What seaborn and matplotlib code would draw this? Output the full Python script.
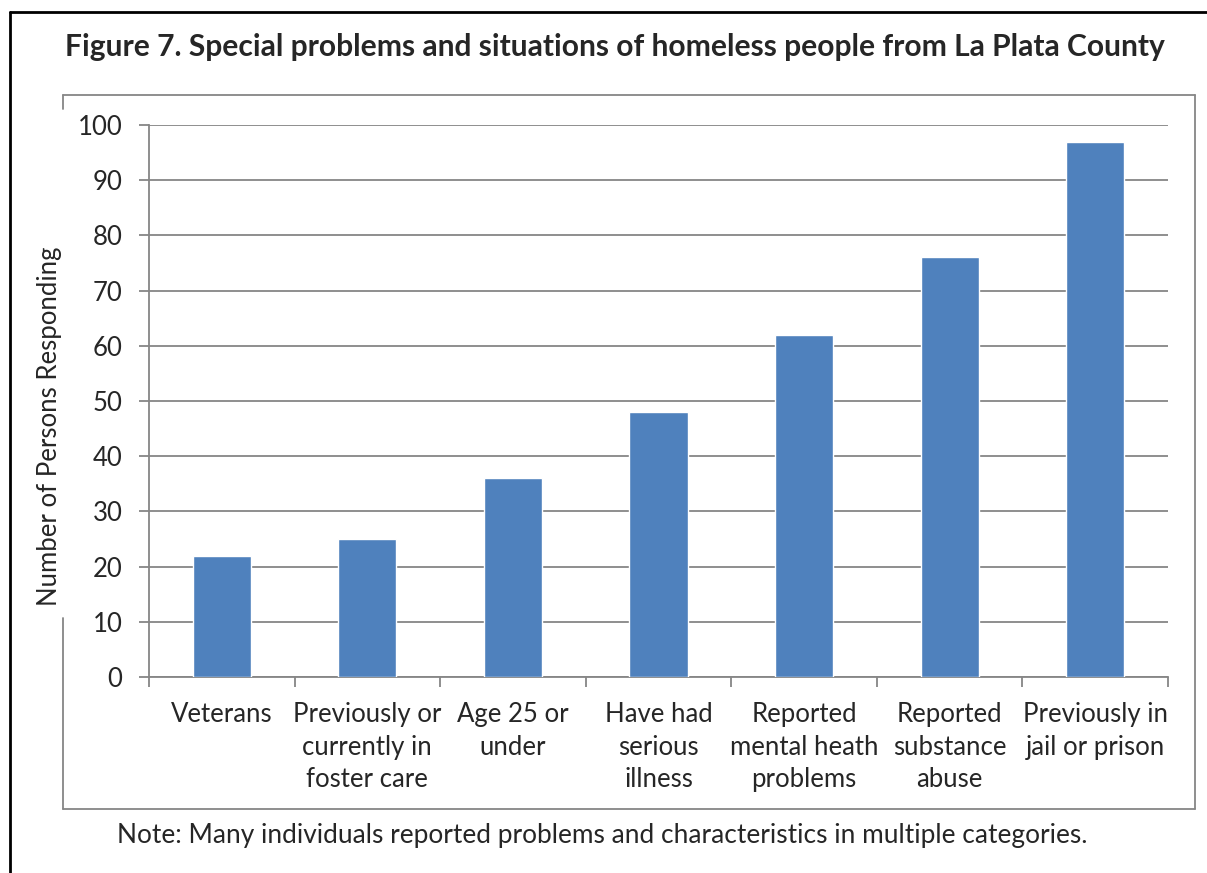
import matplotlib
matplotlib.use("Agg")
import matplotlib.pyplot as plt
import seaborn as sns
import pandas as pd
from matplotlib.lines import Line2D

categories = ["Veterans", "Previously or\ncurrently in\nfoster care", "Age 25 or\nunder",
              "Have had\nserious\nillness", "Reported\nmental heath\nproblems",
              "Reported\nsubstance\nabuse", "Previously in\njail or prison"]
values = [22, 25, 36, 48, 62, 76, 97]
yticks = [0, 10, 20, 30, 40, 50, 60, 70, 80, 90, 100]

title = "Figure 7. Special problems and situations of homeless people from La Plata County"
ylabel = "Number of Persons Responding"
note = "Note: Many individuals reported problems and characteristics in multiple categories."

sns.set_style("white")
plt.rcParams['font.family'] = ['Lato', 'DejaVu Sans']

W, H = 1207, 873
fig = plt.figure(figsize=(W / 100, H / 100), dpi=100)

def fx(px):
    return px / W

def fy(py):
    return 1 - py / H

ax = fig.add_axes([fx(149), fy(677), fx(1168) - fx(149), fy(125) - fy(677)])
df = pd.DataFrame({"cat": categories, "val": values})
sns.barplot(data=df, x="cat", y="val", color="#4F81BD", saturation=1, width=0.4, ax=ax, zorder=3)

gray = "#868686"
fs = 18.5
ax.set_ylim(0, 100)
ax.set_xlim(-0.5, len(categories) - 0.5)
ax.set_yticks(yticks)
ax.set_yticklabels([str(v) for v in yticks], fontsize=fs)
ax.yaxis.grid(True, color=gray, linewidth=1.3, zorder=0)
ax.set_axisbelow(True)
for s in ["top", "right"]:
    ax.spines[s].set_visible(False)
for s in ["left", "bottom"]:
    ax.spines[s].set_color(gray)
    ax.spines[s].set_linewidth(1.3)
ax.tick_params(axis="y", direction="out", length=7, width=1.3, color=gray, pad=12, left=True)
ax.set_xticks(range(len(categories)))
ax.set_xticklabels(categories, fontsize=fs, linespacing=1.38)
ax.tick_params(axis="x", length=0, pad=18)
# minor ticks at category boundaries
ax.set_xticks([i - 0.5 for i in range(len(categories) + 1)], minor=True)
ax.tick_params(axis="x", which="minor", direction="out", length=7, width=1.3, color=gray, bottom=True)
ax.set_xlabel("")
ax.set_ylabel("")

# y label
fig.text(fx(50), fy(426), ylabel, rotation=90, ha="center", va="center", fontsize=fs)

# title
fig.text(fx(615), fy(47), title, ha="center", va="center", fontsize=21.6, fontweight="bold")

# note
fig.text(fx(602), fy(836), note, ha="center", va="center", fontsize=18.9)

# gray chart-area box (left side broken by the y label)
bl = dict(color=gray, linewidth=1.3, transform=fig.transFigure)
fig.add_artist(Line2D([fx(63), fx(1195)], [fy(95), fy(95)], **bl))
fig.add_artist(Line2D([fx(1195), fx(1195)], [fy(95), fy(809)], **bl))
fig.add_artist(Line2D([fx(63), fx(1195)], [fy(809), fy(809)], **bl))
fig.add_artist(Line2D([fx(63), fx(63)], [fy(95), fy(109)], **bl))
fig.add_artist(Line2D([fx(63), fx(63)], [fy(618), fy(809)], **bl))

# black outer border (top and left)
kb = dict(color="black", linewidth=2, transform=fig.transFigure)
fig.add_artist(Line2D([fx(10), 1.0], [fy(12), fy(12)], **kb))
fig.add_artist(Line2D([fx(10), fx(10)], [fy(12), 0.0], **kb))

fig.savefig("out.png", dpi=100)
